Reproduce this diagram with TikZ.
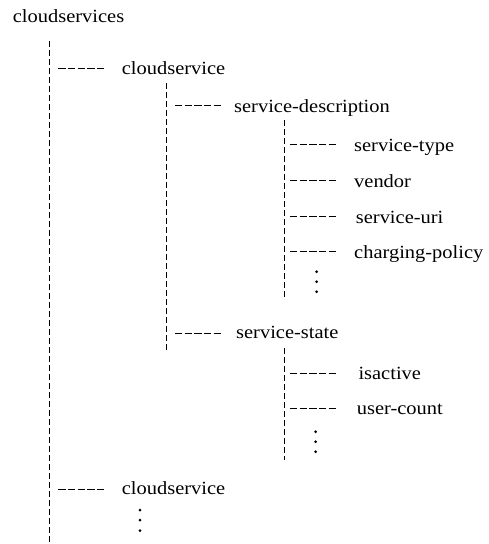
\documentclass[tikz,border=0pt]{standalone}
\usepackage{fontspec}
\setmainfont{Liberation Serif}[FakeStretch=1.1]
\begin{document}
\begin{tikzpicture}[x=1pt,y=-1pt,
  lbl/.style={anchor=base west,inner sep=0pt,font=\fontsize{18.6}{22}\selectfont},
  trunk/.style={line width=0.9pt,dash pattern=on 6pt off 3pt},
  branch/.style={line width=0.9pt,dash pattern=on 7.4pt off 2.25pt},
  dotmark/.style={fill=black,draw=none}]
\useasboundingbox (0,0) rectangle (488,544);

% root
\node[lbl] (root) at (12.7,22.7) {cloudservices};

% vertical guide lines
\coordinate (t1a) at (49.5,41);   \coordinate (t1b) at (49.5,544);
\coordinate (t2a) at (166.7,83);  \coordinate (t2b) at (166.7,352);
\coordinate (t3a) at (284,120);   \coordinate (t3b) at (284,297);
\coordinate (t4a) at (284,348);   \coordinate (t4b) at (284,460);
\draw[trunk] (t1a) -- (t1b);
\draw[trunk] (t2a) -- (t2b);
\draw[trunk] (t3a) -- (t3b);
\draw[trunk] (t4a) -- (t4b);

% first cloudservice
\coordinate (b1) at (58.3,68.3);
\node[lbl] (cs1) at (121.7,74) {cloudservice};
\draw[branch] (b1) -- ++(47,0);

% service-description and its children
\coordinate (b2) at (175,105);
\node[lbl] (sd) at (234,112.5) {service-description};
\draw[branch] (b2) -- ++(46,0);

\coordinate (b3) at (290,144);
\node[lbl] (stype) at (354,151) {service-type};
\draw[branch] (b3) -- ++(46,0);

\coordinate (b4) at (290,180.5);
\node[lbl] (vendor) at (354,187) {vendor};
\draw[branch] (b4) -- ++(46,0);

\coordinate (b5) at (290,216.7);
\node[lbl] (suri) at (355.7,223) {service-uri};
\draw[branch] (b5) -- ++(46,0);

\coordinate (b6) at (290,251.7);
\node[lbl] (cpol) at (354,258) {charging-policy};
\draw[branch] (b6) -- ++(46,0);

\foreach \y in {271.7,281.7,291.7} \fill[dotmark] (316.7,\y) circle (1.5);

% service-state and its children
\coordinate (b7) at (175,333.3);
\node[lbl] (sstate) at (236,338.5) {service-state};
\draw[branch] (b7) -- ++(46,0);

\coordinate (b8) at (290,373.3);
\node[lbl] (active) at (358.3,379.5) {isactive};
\draw[branch] (b8) -- ++(46,0);

\coordinate (b9) at (290,408.3);
\node[lbl] (ucount) at (356.7,414.5) {user-count};
\draw[branch] (b9) -- ++(46,0);

\foreach \y in {431.7,441.7,451.7} \fill[dotmark] (315.7,\y) circle (1.5);

% second cloudservice
\coordinate (b10) at (58.3,489.3);
\node[lbl] (cs2) at (121.7,494) {cloudservice};
\draw[branch] (b10) -- ++(47,0);

\foreach \y in {510,520,530.7} \fill[dotmark] (140,\y) circle (1.5);
\end{tikzpicture}
\end{document}
